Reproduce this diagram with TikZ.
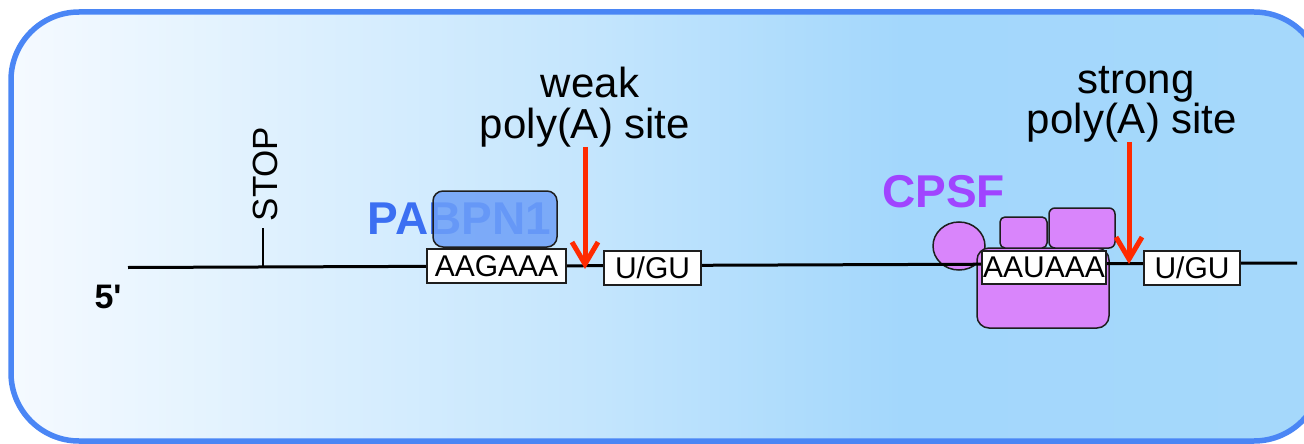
\documentclass[tikz,border=0pt]{standalone}
\usepackage{fontspec}
\setmainfont{Liberation Sans}
\usetikzlibrary{arrows.meta,shapes.geometric,calc}
\definecolor{frameblue}{RGB}{74,134,245}
\definecolor{bgA}{RGB}{245,250,255}
\definecolor{bgB}{RGB}{195,229,253}
\definecolor{bgC}{RGB}{163,215,252}
\definecolor{bgD}{RGB}{165,216,251}
\definecolor{pabtext}{RGB}{59,111,242}
\definecolor{pabfill}{RGB}{110,160,248}
\definecolor{cpsftext}{RGB}{160,68,255}
\definecolor{purp}{RGB}{217,133,251}
\definecolor{arrred}{RGB}{255,42,0}
\definecolor{edge}{RGB}{30,30,30}
\pgfdeclarehorizontalshading{bgshade}{100bp}{color(0bp)=(bgA); color(25bp)=(bgA); color(47.5bp)=(bgB); color(59bp)=(bgC); color(75bp)=(bgD); color(100bp)=(bgD)}
\tikzset{
  seqbox/.style={draw=edge, line width=1.5pt, fill=white, inner sep=0pt, minimum height=34pt, font=\fontsize{30}{34}\selectfont},
  protein/.style={draw=edge, line width=1.5pt, fill=purp, inner sep=0pt},
  label/.style={font=\fontsize{42}{46}\selectfont, inner sep=0pt, anchor=base},
  cut/.style={draw=arrred, line width=5pt, -{Straight Barb[length=22pt, width=26pt]}},
}
\begin{document}
\begin{tikzpicture}[x=1pt, y=-1pt]
\useasboundingbox (0,0) rectangle (1304,444);
\clip (0,0) rectangle (1304,444);
% frame with gradient
\path[shade, shading=bgshade, draw=frameblue, line width=5.5pt, rounded corners=68pt] (11,12) rectangle (1322,441);

% labels above
\node[label] (wk) at (590,97) {weak};
\node[label] (wp) at (585,138) {poly(A) site};
\node[label] (sg) at (1136,93) {strong};
\node[label] (sp) at (1132,133) {poly(A) site};

% 5' label
\node[font=\bfseries\fontsize{34}{38}\selectfont, inner sep=0pt, anchor=base] (five) at (108,308) {5\textquotesingle};

% STOP
\coordinate (stopb) at (263,267);
\coordinate (stopt) at (263,228);
\node[font=\fontsize{35}{38}\selectfont, inner sep=0pt, anchor=base, rotate=90] (stop) at (277,174) {STOP};

% PABPN1 text then translucent box
\node[font=\bfseries\fontsize{46}{50}\selectfont, text=pabtext, inner sep=0pt, anchor=base] (pabt) at (459.5,234) {PABPN1};
\node[draw=edge, line width=1.5pt, fill=pabfill, fill opacity=0.85, rounded corners=10pt, minimum width=124pt, minimum height=56pt, inner sep=0pt] (pab) at (495,219) {};

% CPSF
\node[font=\bfseries\fontsize{46}{50}\selectfont, text=cpsftext, inner sep=0pt, anchor=base] (cpsft) at (943.5,207) {CPSF};
\node[protein, ellipse, minimum width=52pt, minimum height=48pt] (ball) at (959,246) {};
\node[protein, rounded corners=12pt, minimum width=132pt, minimum height=80pt] (big) at (1043,288) {};
\node[protein, rounded corners=5pt, minimum width=47pt, minimum height=31pt] (sm1) at (1023.5,232.5) {};
\node[protein, rounded corners=6pt, minimum width=66pt, minimum height=40pt] (sm2) at (1082,228) {};

% RNA line
\coordinate (l5) at (128,267.5);
\coordinate (l3) at (1297,263);
\draw[line width=3pt] (l5) -- (l3);
\draw[line width=2pt] (stopb) -- (stopt);

% sequence boxes
\node[seqbox, minimum width=139pt] (aag) at (496.5,266) {AAGAAA};
\node[seqbox, minimum width=97pt] (ug1) at (652.5,268) {U/GU};
\node[seqbox, minimum width=124pt, minimum height=33pt] (aau) at (1044,267.5) {AAUAAA};
\node[seqbox, minimum width=96pt] (ug2) at (1192,268) {U/GU};

% cleavage arrows
\coordinate (tipW) at (585,269);
\coordinate (tipS) at (1129,264);
\draw[cut] (tipW |- wp.south) -- (tipW);
\draw[cut] (tipS |- sp.south) -- (tipS);
\end{tikzpicture}
\end{document}
